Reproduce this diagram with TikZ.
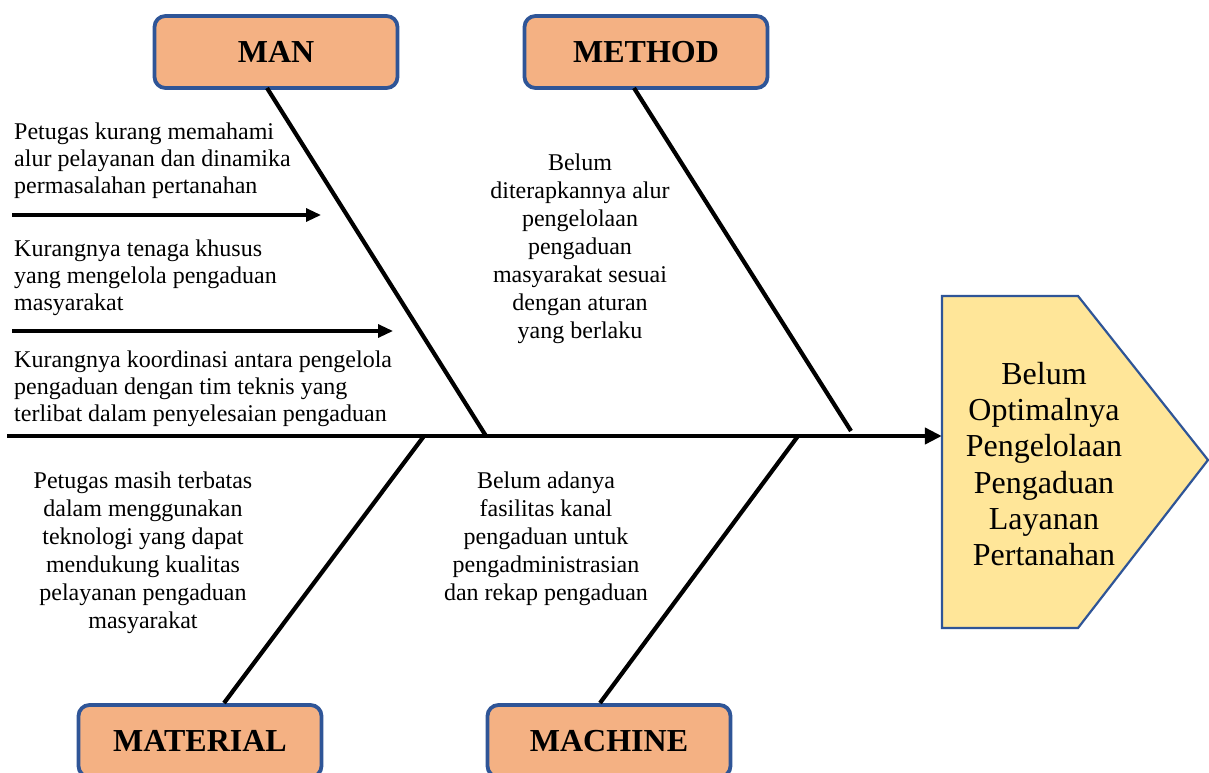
\documentclass[tikz,border=0pt]{standalone}
\usepackage{fontspec}
\setmainfont{Liberation Serif}
\usetikzlibrary{arrows.meta}
\definecolor{boxfill}{HTML}{F4B183}
\definecolor{boxline}{HTML}{2F5597}
\definecolor{headfill}{HTML}{FFE699}
\tikzset{
  catbox/.style={draw=boxline, line width=3.8pt, fill=boxfill, rounded corners=11pt,
    minimum width=243pt, minimum height=72pt, inner sep=0pt,
    font=\fontsize{32}{36}\selectfont\bfseries},
  bone/.style={line width=4.2pt, line cap=butt},
  spine/.style={line width=4.4pt, -{Triangle[length=17pt,width=16pt]}},
  sub/.style={line width=3.2pt, -{Triangle[length=15pt,width=13pt]}},
  lefttxt/.style={anchor=north west, inner sep=0pt, align=left, font=\fontsize{24}{27}\selectfont},
  ctxt/.style={anchor=north, inner sep=0pt, align=center, font=\fontsize{24}{28}\selectfont},
}
\begin{document}
\begin{tikzpicture}[x=1pt,y=-1pt]
\useasboundingbox (0,0) rectangle (1209,773);
\clip (0,0) rectangle (1209,773);
% head
\draw[boxline, line width=2.2pt, fill=headfill] (942,296) -- (1078,296) -- (1208,460) -- (1078,628) -- (942,628) -- cycle;
\node[inner sep=0pt, minimum width=136pt, minimum height=332pt] (head) at (1010,462) {};
\node[align=center, inner sep=0pt, font=\fontsize{32}{36.2}\selectfont] (headtxt) at (1044,464)
  {Belum\\Optimalnya\\Pengelolaan\\Pengaduan\\Layanan\\Pertanahan};
% category boxes
\node[catbox] (man) at (276,52) {MAN};
\node[catbox] (method) at (646,52) {METHOD};
\node[catbox] (material) at (200,741) {MATERIAL};
\node[catbox] (machine) at (609,741) {MACHINE};
% spine
\coordinate (tail) at (7,436);
\draw[spine] (tail) -- (tail -| head.west);
% bones
\coordinate (manTop) at (267,88);
\coordinate (manEnd) at (486,436);
\coordinate (methTop) at (634,88);
\coordinate (methEnd) at (851,431);
\coordinate (matStart) at (424,436);
\coordinate (matBot) at (224,703);
\coordinate (macStart) at (798,436);
\coordinate (macBot) at (600,703);
\draw[bone] (manTop) -- (manEnd);
\draw[bone] (methTop) -- (methEnd);
\draw[bone] (matStart) -- (matBot);
\draw[bone] (macStart) -- (macBot);
% sub arrows
\coordinate (a1s) at (12,215);
\coordinate (a1e) at (321,215);
\coordinate (a2s) at (12,331);
\coordinate (a2e) at (393,331);
\draw[sub] (a1s) -- (a1e);
\draw[sub] (a2s) -- (a2e);
% texts
\node[lefttxt] (t1) at (14,123) {Petugas kurang memahami\\alur pelayanan dan dinamika\\permasalahan pertanahan};
\node[lefttxt] (t2) at (14,240) {Kurangnya tenaga khusus\\yang mengelola pengaduan\\masyarakat};
\node[lefttxt] (t3) at (14,351) {Kurangnya koordinasi antara pengelola\\pengaduan dengan tim teknis yang\\terlibat dalam penyelesaian pengaduan};
\node[ctxt] (t4) at (580,154) {Belum\\diterapkannya alur\\pengelolaan\\pengaduan\\masyarakat sesuai\\dengan aturan\\yang berlaku};
\node[ctxt] (t5) at (143,472) {Petugas masih terbatas\\dalam menggunakan\\teknologi yang dapat\\mendukung kualitas\\pelayanan pengaduan\\masyarakat};
\node[ctxt] (t6) at (546,472) {Belum adanya\\fasilitas kanal\\pengaduan untuk\\pengadministrasian\\dan rekap pengaduan};
\end{tikzpicture}
\end{document}
